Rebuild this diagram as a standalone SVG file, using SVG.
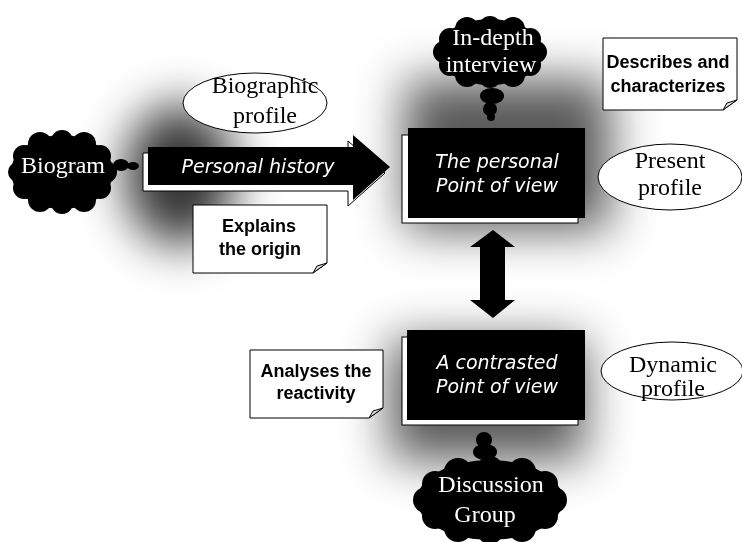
<svg xmlns="http://www.w3.org/2000/svg" width="742" height="542" viewBox="0 0 742 542">
<defs>
<filter id="glow" filterUnits="userSpaceOnUse" x="-50" y="-50" width="850" height="650">
<feGaussianBlur stdDeviation="24"/>
</filter>
<style>
.serif{font-family:"Liberation Serif","Times New Roman",serif;font-size:24px;text-anchor:middle}
.cloudtxt{fill:#fff}
.comic{font-family:"DejaVu Sans",sans-serif;font-style:italic;font-size:19px;fill:#fff;text-anchor:middle}
.note{font-family:"Liberation Sans",Arial,sans-serif;font-weight:bold;font-size:18px;fill:#000;text-anchor:middle}
.ell{fill:#fff;stroke:#000;stroke-width:1}
.noteb{fill:#fff;stroke:#000;stroke-width:1}
.fold{fill:#ddd;stroke:#000;stroke-width:1}
.shadowbox{fill:#fff;stroke:#000;stroke-width:1}
</style>
</defs>
<rect width="742" height="542" fill="#fff"/>
<g id="glows" filter="url(#glow)" fill="#000">
<ellipse cx="180" cy="175" rx="55" ry="70" opacity="0.8"/>
<rect x="405" y="80" width="205" height="150" opacity="0.65"/>
<rect x="390" y="340" width="195" height="120" opacity="0.65"/>
</g>
<g id="connectors">
<polygon points="143,153 348,153 348,141 385,173 348,206 348,191 143,191" class="shadowbox"/>
<polygon points="148,147 353,147 353,135 390,167 353,200 353,185 148,185" fill="#000"/>
<text class="comic" x="258" y="173">Personal history</text>
<polygon points="493,230 515,247 505,247 505,300 515,300 493,318 470,300 480,300 480,247 470,247" fill="#000"/>
</g>
<g id="biogram">
<g fill="#000">
<ellipse cx="62" cy="172" rx="51" ry="37"/>
<circle cx="106" cy="172" r="11"/>
<circle cx="100" cy="188" r="11"/>
<circle cx="84" cy="200" r="12"/>
<circle cx="62" cy="203" r="11"/>
<circle cx="40" cy="200" r="12"/>
<circle cx="24" cy="188" r="11"/>
<circle cx="18" cy="172" r="10"/>
<circle cx="24" cy="156" r="11"/>
<circle cx="40" cy="144" r="12"/>
<circle cx="62" cy="141" r="11"/>
<circle cx="84" cy="144" r="12"/>
<circle cx="100" cy="156" r="11"/>
<ellipse cx="121" cy="165" rx="8" ry="6"/>
<ellipse cx="133" cy="166" rx="6" ry="4"/>
</g>
<text class="serif cloudtxt" x="63" y="173">Biogram</text>
</g>
<g id="in-depth-interview">
<g fill="#000">
<ellipse cx="490" cy="52" rx="53" ry="33"/>
<circle cx="536" cy="52" r="11"/>
<circle cx="530" cy="65" r="11"/>
<circle cx="513" cy="75" r="12"/>
<circle cx="490" cy="77" r="11"/>
<circle cx="467" cy="75" r="12"/>
<circle cx="450" cy="65" r="11"/>
<circle cx="444" cy="52" r="11"/>
<circle cx="450" cy="39" r="11"/>
<circle cx="467" cy="29" r="12"/>
<circle cx="490" cy="27" r="11"/>
<circle cx="513" cy="29" r="12"/>
<circle cx="530" cy="39" r="11"/>
<ellipse cx="492" cy="96" rx="12" ry="8"/>
<circle cx="490" cy="109" r="7"/>
<circle cx="491" cy="117" r="4"/>
</g>
<text class="serif cloudtxt" x="493" y="45">In-depth</text>
<text class="serif cloudtxt" x="491" y="72">interview</text>
</g>
<g id="personal-point-of-view">
<rect x="402" y="135" width="176" height="88" class="shadowbox"/>
<rect x="408" y="128" width="177" height="90" fill="#000"/>
<text class="comic" x="497" y="168">The personal</text>
<text class="comic" x="497" y="192">Point of view</text>
</g>
<g id="contrasted-point-of-view">
<rect x="402" y="337" width="176" height="88" class="shadowbox"/>
<rect x="407" y="330" width="178" height="90" fill="#000"/>
<text class="comic" x="497" y="369">A contrasted</text>
<text class="comic" x="497" y="393">Point of view</text>
</g>
<g id="discussion-group">
<g fill="#000">
<ellipse cx="490" cy="500" rx="73" ry="40"/>
<circle cx="554" cy="500" r="13"/>
<circle cx="545" cy="516" r="13"/>
<circle cx="522" cy="528" r="14"/>
<circle cx="490" cy="531" r="13"/>
<circle cx="458" cy="528" r="14"/>
<circle cx="435" cy="516" r="13"/>
<circle cx="426" cy="500" r="13"/>
<circle cx="435" cy="484" r="13"/>
<circle cx="458" cy="472" r="14"/>
<circle cx="490" cy="469" r="13"/>
<circle cx="522" cy="472" r="14"/>
<circle cx="545" cy="484" r="13"/>
<circle cx="484" cy="440" r="8"/>
<ellipse cx="485" cy="452" rx="12" ry="8"/>
</g>
<text class="serif cloudtxt" x="491" y="492">Discussion</text>
<text class="serif cloudtxt" x="485" y="522">Group</text>
</g>
<g id="biographic-profile">
<ellipse cx="255" cy="103" rx="72" ry="30" class="ell"/>
<text class="serif" x="265" y="93">Biographic</text>
<text class="serif" x="265" y="123">profile</text>
</g>
<g id="present-profile">
<ellipse cx="670" cy="177" rx="72" ry="33" class="ell"/>
<text class="serif" x="670" y="168">Present</text>
<text class="serif" x="670" y="195">profile</text>
</g>
<g id="dynamic-profile">
<ellipse cx="672" cy="371" rx="71" ry="29" class="ell"/>
<text class="serif" x="673" y="372">Dynamic</text>
<text class="serif" x="673" y="396">profile</text>
</g>
<g id="explains-the-origin">
<path d="M193,205 H327 V263 L313,273 H193 Z" class="noteb"/>
<polygon points="313,273 317,266 327,263" class="fold"/>
<text class="note" x="259" y="232">Explains</text>
<text class="note" x="260" y="255">the origin</text>
</g>
<g id="describes-and-characterizes">
<path d="M603,38 H737 V100 L723,110 H603 Z" class="noteb"/>
<polygon points="723,110 727,103 737,100" class="fold"/>
<text class="note" x="668" y="68">Describes and</text>
<text class="note" x="668" y="92">characterizes</text>
</g>
<g id="analyses-the-reactivity">
<path d="M250,350 H383 V408 L369,418 H250 Z" class="noteb"/>
<polygon points="369,418 373,411 383,408" class="fold"/>
<text class="note" x="316" y="377">Analyses the</text>
<text class="note" x="316" y="399">reactivity</text>
</g>
</svg>
